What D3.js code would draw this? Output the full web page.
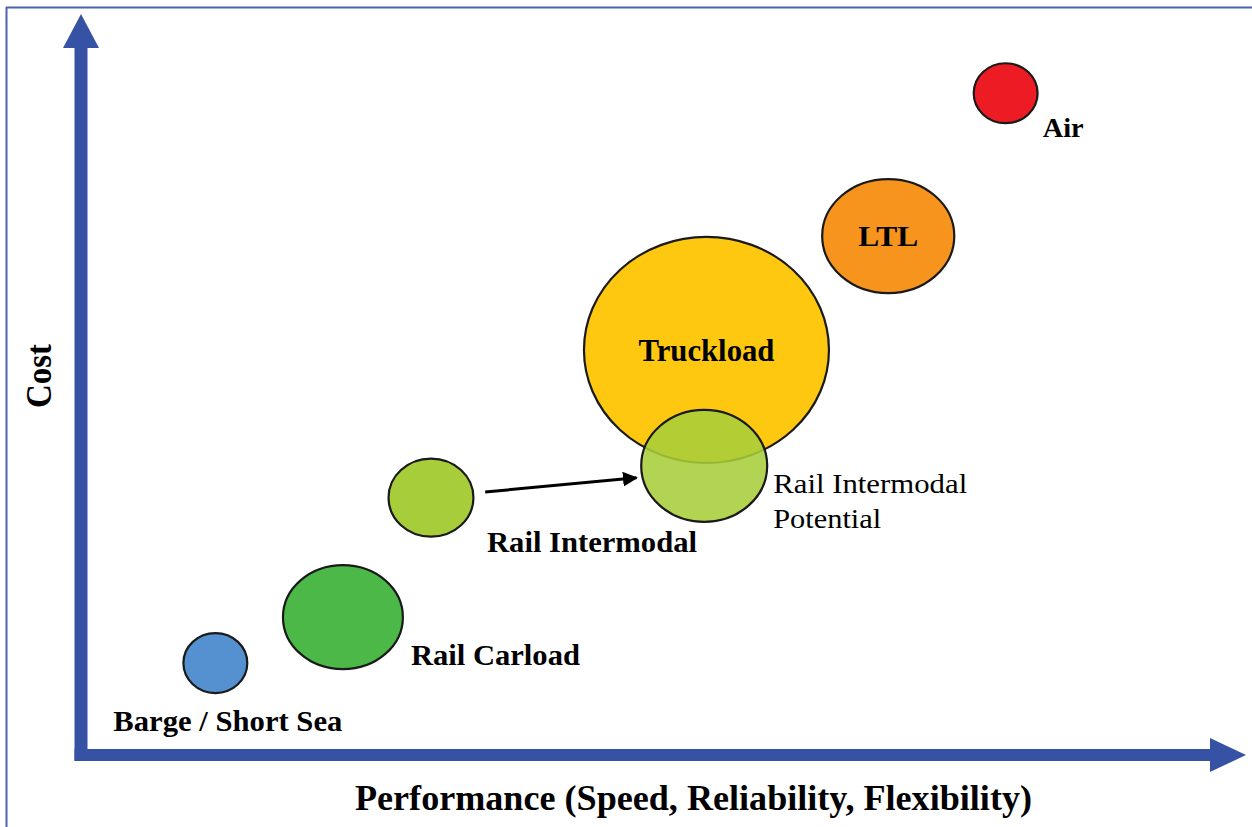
<!DOCTYPE html>
<html><head><meta charset="utf-8">
<script src="https://cdn.jsdelivr.net/npm/d3@7"></script>
<style>
html,body{margin:0;padding:0;background:#fff;}
svg{display:block;}
</style></head>
<body><svg id="chart" width="1252" height="827"></svg>
<script>
// ---- data ----
const modes       = ["Air", "LTL", "Truckload", "Rail Intermodal Potential", "Rail Intermodal", "Rail Carload", "Barge / Short Sea"];
const performance = [81.9, 71.5, 55.4, 55.2, 31.0, 23.2, 11.9];   // x value (0-100)
const cost        = [93.6, 73.4, 57.3, 40.9, 36.4, 19.5, 13.0];   // y value (0-100)
const spreadPerf  = [2.83, 5.85, 10.85, 5.58, 3.76, 5.31, 2.83];  // half-width in performance units
const spreadCost  = [4.24, 8.06, 15.98, 7.92, 5.52, 7.36, 4.24];  // half-height in cost units
const colors      = ["#ED1C24", "#F7941D", "#FDC80F", "#A7CE3A", "#A7CE3A", "#4CB848", "#5591D0"];
const shiftFrom   = [35.8, 37.2];  // arrow start (performance, cost)
const shiftTo     = [49.2, 39.2];  // arrow end
const xTitle = "Performance (Speed, Reliability, Flexibility)";
const yTitle = "Cost";

// ---- layout ----
const FONT = "'Liberation Serif', 'Times New Roman', Tinos, serif";
const svg = d3.select("#chart");
const x = d3.scaleLinear().domain([0, 100]).range([81, 1210]);
const y = d3.scaleLinear().domain([0, 100]).range([755, 48]);

// frame lines
svg.append("line").attr("x1", 6).attr("x2", 1252).attr("y1", 7.5).attr("y2", 7.5)
  .attr("stroke", "#4a62b0").attr("stroke-width", 2);
svg.append("line").attr("x1", 6.5).attr("x2", 6.5).attr("y1", 7).attr("y2", 827)
  .attr("stroke", "#4a62b0").attr("stroke-width", 2);

const axisColor = "#3652A5";
// y axis arrow
svg.append("rect").attr("x", 74.5).attr("y", 46).attr("width", 13).attr("height", 715).attr("fill", axisColor);
svg.append("path").attr("d", d3.line()([[63, 48], [81, 14], [99, 48]]) + "Z").attr("fill", axisColor);
// x axis arrow
svg.append("rect").attr("x", 74.5).attr("y", 749).attr("width", 1138).attr("height", 12).attr("fill", axisColor);
svg.append("path").attr("d", d3.line()([[1210, 738], [1246, 755], [1210, 772]]) + "Z").attr("fill", axisColor);

// axis titles
svg.append("text").attr("x", 355).attr("y", 810)
  .attr("font-family", FONT).attr("font-size", 36).attr("font-weight", "bold")
  .attr("textLength", 677).attr("lengthAdjust", "spacingAndGlyphs").text(xTitle);
svg.append("text").attr("transform", "translate(51,408) rotate(-90)")
  .attr("font-family", FONT).attr("font-size", 35).attr("font-weight", "bold")
  .attr("textLength", 64).attr("lengthAdjust", "spacingAndGlyphs").text(yTitle);

// bubbles
const data = modes.map((m, i) => ({
  mode: m, px: performance[i], cy: cost[i], sx: spreadPerf[i], sy: spreadCost[i], color: colors[i]
}));
const order = [0, 1, 2, 4, 5, 6, 3]; // potential drawn last (on top of truckload)
svg.append("g").selectAll("ellipse").data(order.map(i => data[i])).join("ellipse")
  .attr("cx", d => x(d.px)).attr("cy", d => y(d.cy))
  .attr("rx", d => x(d.px + d.sx) - x(d.px))
  .attr("ry", d => y(d.cy) - y(d.cy + d.sy))
  .attr("fill", d => d.color)
  .attr("fill-opacity", d => d.mode === "Rail Intermodal Potential" ? 0.88 : 1)
  .attr("stroke", "#1a1a1a").attr("stroke-width", 2.2);

// arrow
svg.append("defs").append("marker").attr("id", "ah").attr("viewBox", "0 0 10 10")
  .attr("refX", 9).attr("refY", 5).attr("markerWidth", 5).attr("markerHeight", 5)
  .attr("markerUnits", "strokeWidth").attr("orient", "auto")
  .append("path").attr("d", "M0,0 L10,5 L0,10 Z").attr("fill", "#000");
svg.append("line")
  .attr("x1", x(shiftFrom[0])).attr("y1", y(shiftFrom[1]))
  .attr("x2", x(shiftTo[0])).attr("y2", y(shiftTo[1]))
  .attr("stroke", "#000").attr("stroke-width", 3).attr("marker-end", "url(#ah)");

// labels (styling: offset from bubble centre, anchor, size, weight, length)
const labelStyle = {
  "Air":               {dx: 37, dy: 44, anchor: "start", size: 28, bold: true, len: 41},
  "LTL":               {dx: 0, dy: 10, anchor: "middle", size: 30, bold: true, len: 60},
  "Truckload":         {dx: 0, dy: 11, anchor: "middle", size: 31, bold: true, len: 136},
  "Rail Intermodal":   {dx: 56, dy: 54, anchor: "start", size: 29, bold: true, len: 210},
  "Rail Carload":      {dx: 68, dy: 48, anchor: "start", size: 29, bold: true, len: 169},
  "Barge / Short Sea": {dx: -102, dy: 68, anchor: "start", size: 30, bold: true, len: 229}
};
const lab = svg.append("g");
data.forEach(d => {
  const s = labelStyle[d.mode];
  if (!s) return;
  lab.append("text")
    .attr("x", x(d.px) + s.dx).attr("y", y(d.cy) + s.dy)
    .attr("text-anchor", s.anchor).attr("font-size", s.size)
    .attr("font-family", FONT)
    .attr("font-weight", s.bold ? "bold" : "normal")
    .attr("textLength", s.len).attr("lengthAdjust", "spacingAndGlyphs")
    .text(d.mode);
});
// potential label, two lines, regular weight
const pot = data[3];
const potLines = ["Rail Intermodal", "Potential"];
const potLen = [194, 108];
potLines.forEach((t, i) => {
  lab.append("text")
    .attr("x", x(pot.px) + 69).attr("y", y(pot.cy) + 27 + i * 35)
    .attr("font-family", FONT).attr("font-size", 28)
    .attr("textLength", potLen[i]).attr("lengthAdjust", "spacingAndGlyphs")
    .text(t);
});
</script></body></html>
